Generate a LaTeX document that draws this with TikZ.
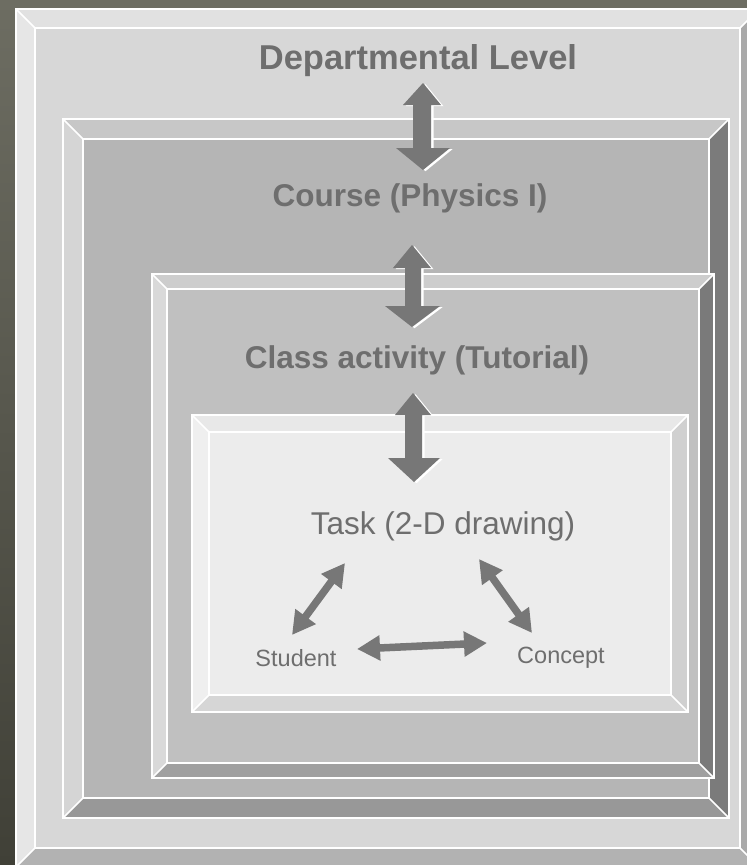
\documentclass[tikz,border=0pt]{standalone}
\usepackage{fontspec}
\setmainfont{Liberation Sans}
\usetikzlibrary{arrows.meta}
\definecolor{bgtop}{HTML}{6D6D62}
\definecolor{bgbot}{HTML}{404037}
\definecolor{txtgray}{HTML}{6E6E6E}
\definecolor{arrowgray}{HTML}{777777}
% frame 1 (Departmental)
\definecolor{fAtop}{HTML}{E1E1E1}\definecolor{fAleft}{HTML}{E6E6E6}\definecolor{fAface}{HTML}{D7D7D7}
\definecolor{fAright}{HTML}{A9A9A9}\definecolor{fAbot}{HTML}{B2B2B2}
% frame 2 (Course)
\definecolor{fBtop}{HTML}{C7C7C7}\definecolor{fBleft}{HTML}{D5D5D5}\definecolor{fBface}{HTML}{B5B5B5}
\definecolor{fBright}{HTML}{7B7B7B}\definecolor{fBbot}{HTML}{989898}
% frame 3 (Class activity)
\definecolor{fCtop}{HTML}{CDCDCD}\definecolor{fCleft}{HTML}{D9D9D9}\definecolor{fCface}{HTML}{C0C0C0}
\definecolor{fCright}{HTML}{7A7A7A}\definecolor{fCbot}{HTML}{A0A0A0}
% frame 4 (Task)
\definecolor{fDtop}{HTML}{E8E8E8}\definecolor{fDleft}{HTML}{EFEFEF}\definecolor{fDface}{HTML}{ECECEC}
\definecolor{fDright}{HTML}{D0D0D0}\definecolor{fDbot}{HTML}{D6D6D6}

\newcommand{\bevelbox}[6]{%
  \fill[#6face] ({#1+#5},{#2+#5}) rectangle ({#3-#5},{#4-#5});
  \fill[#6top] (#1,#2) -- (#3,#2) -- ({#3-#5},{#2+#5}) -- ({#1+#5},{#2+#5}) -- cycle;
  \fill[#6left] (#1,#2) -- ({#1+#5},{#2+#5}) -- ({#1+#5},{#4-#5}) -- (#1,#4) -- cycle;
  \fill[#6right] (#3,#2) -- (#3,#4) -- ({#3-#5},{#4-#5}) -- ({#3-#5},{#2+#5}) -- cycle;
  \fill[#6bot] (#1,#4) -- (#3,#4) -- ({#3-#5},{#4-#5}) -- ({#1+#5},{#4-#5}) -- cycle;
  \draw[whiteline] (#1,#2) rectangle (#3,#4);
  \draw[whiteline] ({#1+#5},{#2+#5}) rectangle ({#3-#5},{#4-#5});
  \draw[whiteline] (#1,#2) -- ({#1+#5},{#2+#5})
                   (#3,#2) -- ({#3-#5},{#2+#5})
                   (#3,#4) -- ({#3-#5},{#4-#5})
                   (#1,#4) -- ({#1+#5},{#4-#5});
}
\newcommand{\blockarrow}[1]{%
  \fill[white, shift={(2.5,1.2)}] #1;
  \fill[arrowgray] #1;
}

\tikzset{
  whiteline/.style={draw=white, line width=1.5pt, line join=miter},
  toplabel/.style={font=\fontsize{34.5}{40}\selectfont\bfseries, text=txtgray, inner sep=0pt, anchor=base},
  biglabel/.style={font=\fontsize{31.5}{36}\selectfont\bfseries, text=txtgray, inner sep=0pt, anchor=base},
  tasklabel/.style={font=\fontsize{31.5}{36}\selectfont, text=txtgray, inner sep=0pt, anchor=base},
  smalllabel/.style={font=\fontsize{23.5}{27}\selectfont, text=txtgray, inner sep=0pt, anchor=base},
  thinarrow/.style={draw=arrowgray, line width=7.5pt,
    {Triangle[length=23pt,width=24pt]}-{Triangle[length=23pt,width=24pt]}}
}

\begin{document}
\begin{tikzpicture}[x=1pt, y=-1pt]
  \useasboundingbox (0,0) rectangle (747,865);
  \clip (0,0) rectangle (747,865);
  \shade[top color=bgtop, bottom color=bgbot] (0,0) rectangle (747,865);

  \bevelbox{16}{9}{759}{867}{19}{fA}
  \bevelbox{63}{119}{729}{818}{20}{fB}
  \bevelbox{152}{274}{714}{778}{15}{fC}
  \bevelbox{192}{415}{688}{712}{17}{fD}

  % labels
  \node[toplabel] (dept) at (418,69) {Departmental Level};
  \node[biglabel] (course) at (410,206) {Course (Physics I)};
  \node[biglabel] (class) at (417,368) {Class activity (Tutorial)};
  \node[tasklabel] (task) at (443,534) {Task (2-D drawing)};
  \node[smalllabel] (student) at (296,666) {Student};
  \node[smalllabel] (concept) at (561,663) {Concept};

  % block double arrows between levels
  \blockarrow{(423,83) -- (441,105) -- (431,105) -- (431,148) -- (450,148) -- (423,170) -- (396,148) -- (413,148) -- (413,105) -- (403,105) -- cycle}
  \blockarrow{(412,245) -- (431,268) -- (421,268) -- (421,306) -- (440,306) -- (412,327) -- (385,306) -- (405,306) -- (405,268) -- (393,268) -- cycle}
  \blockarrow{(413,393) -- (431,415) -- (422,415) -- (422,458) -- (440,458) -- (414,482) -- (388,458) -- (405,458) -- (405,415) -- (395,415) -- cycle}

  % triangle of relations
  \coordinate (st) at (292,635);
  \coordinate (ts) at (345,563);
  \coordinate (tc) at (479,559);
  \coordinate (ct) at (532,633);
  \coordinate (sc) at (357,649);
  \coordinate (cs) at (487,643);
  \draw[thinarrow] (st) -- (ts);
  \draw[thinarrow] (tc) -- (ct);
  \draw[thinarrow] (sc) -- (cs);
\end{tikzpicture}
\end{document}
